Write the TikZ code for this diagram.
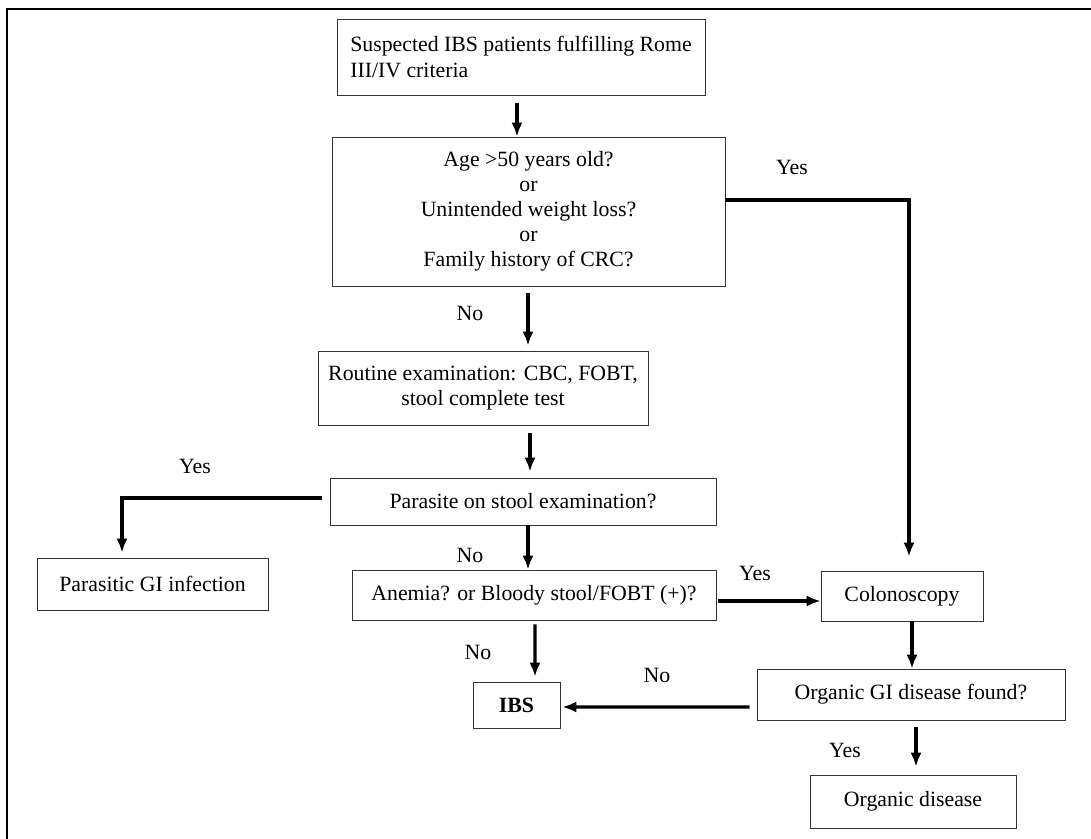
\documentclass[tikz,border=0pt]{standalone}
\usepackage{fontspec}
\setmainfont{Liberation Serif}
\usetikzlibrary{arrows.meta,calc,positioning}
\tikzset{
  box/.style={draw=black!80, line width=0.6pt, inner sep=2pt, align=center,
    font=\fontsize{15.5}{17.8}\selectfont},
  flow/.style={line width=2.2pt, -{Latex[length=3.5mm,width=2.8mm]}},
  lbl/.style={font=\fontsize{15.5}{17.8}\selectfont},
}
\def\framelines{(7,839) -- (7,9) -- (1091,9)}

\begin{document}
\begin{tikzpicture}[x=0.025cm, y=-0.025cm]
        \useasboundingbox (0,0) rectangle (1091,839);
        \draw[line width=1.1pt] \framelines;

        \node[box, minimum width=9.2cm, minimum height=1.9cm, align=left] (start) at (521,57)
            {Suspected IBS patients fulfilling Rome\\III/IV criteria};
        \node[box, minimum width=9.825cm, minimum height=3.725cm] (q1) at (528.5,211.5)
            {Age >50 years old?\\or\\Unintended weight loss?\\or\\Family history of CRC?};
        \node[box, minimum width=8.25cm, minimum height=1.85cm] (routine) at (483,388)
            {Routine examination: CBC, FOBT,\\stool complete test};
        \node[box, minimum width=9.65cm, minimum height=1.175cm] (parasite) at (523,501.5)
            {Parasite on stool examination?};
        \node[box, minimum width=5.775cm, minimum height=1.3cm] (pinf) at (152.5,584)
            {Parasitic GI infection};
        \node[box, minimum width=9.1cm, minimum height=1.25cm] (anemia) at (534,595)
            {Anemia? or Bloody stool/FOBT (+)?};
        \node[box, minimum width=4.05cm, minimum height=1.25cm] (colon) at (902,596)
            {Colonoscopy};
        \node[box, minimum width=2.175cm, minimum height=1.15cm] (ibs) at (516.5,705)
            {\textbf{IBS}};
        \node[box, minimum width=7.7cm, minimum height=1.275cm] (organic) at (911,694.5)
            {Organic GI disease found?};
        \node[box, minimum width=5.15cm, minimum height=1.325cm] (disease) at (913,801.5)
            {Organic disease};

        \draw[flow] ($(start.south)+(-4,8)$) -- ($(q1.north)+(-11.5,0)$);
        \draw[flow] ($(q1.south)+(-0.5,7)$) -- ($(routine.north)+(45,-5)$);
        \draw[flow] ($(routine.south)+(47,8)$) -- ($(parasite.north)+(7,-6)$);
        \draw[flow] ($(parasite.south)+(5,0)$) -- ($(anemia.north)+(-6,0)$);
        \draw[flow] ($(anemia.south)+(1,4)$) -- ($(ibs.north)+(18.5,-5)$);
        \draw[flow] ($(q1.east)+(0,-11.5)$) -| ($(colon.north)+(7,-14)$);
        \draw[flow] ($(parasite.west)+(-8,-3.5)$) -| ($(pinf.north)+(-30.5,-5)$);
        \draw[flow] ($(anemia.east)+(2,6)$) -- ($(colon.west)+(0,5)$);
        \draw[flow] ($(colon.south)+(10,0)$) -- ($(organic.north)+(1,0)$);
        \draw[flow] ($(organic.west)+(-7,12.5)$) -- ($(ibs.east)+(2,2)$);
        \draw[flow] ($(organic.south)+(5,7)$) -- ($(disease.north)+(3,-8)$);

        \node[lbl] (yes1) at (792,167) {Yes};
        \node[lbl] (no1) at (470,313) {No};
        \node[lbl] (yes2) at (195,466) {Yes};
        \node[lbl] (no2) at (470,555) {No};
        \node[lbl] (yes3) at (755,573) {Yes};
        \node[lbl] (no3) at (478,652) {No};
        \node[lbl] (no4) at (657,675) {No};
        \node[lbl] (yes4) at (845,750) {Yes};
    \end{tikzpicture}
\end{document}
